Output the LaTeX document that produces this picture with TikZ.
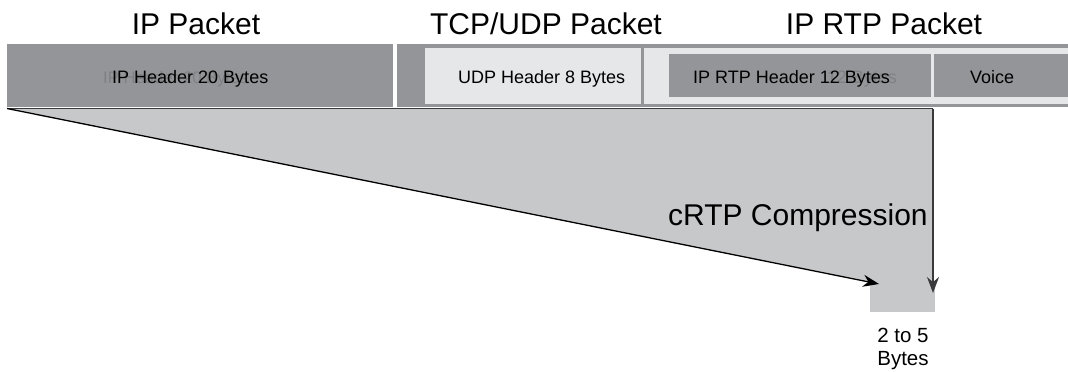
\documentclass[tikz,border=0pt]{standalone}
\usepackage{fontspec}
\setmainfont{Liberation Sans}
\usetikzlibrary{arrows.meta}
\definecolor{banddark}{HTML}{939598}
\definecolor{bandlight}{HTML}{E6E7E8}
\definecolor{wedge}{HTML}{C7C8CA}
\definecolor{rule}{HTML}{3A3A3C}
\definecolor{ghost}{HTML}{808184}
\tikzset{
  field/.style={draw=none, inner sep=0pt, anchor=north west},
  title/.style={inner sep=0pt, anchor=base, font=\fontsize{30}{32}\selectfont},
  label/.style={inner sep=0pt, anchor=base west, font=\fontsize{18}{20}\selectfont, text=black},
  ghosttext/.style={inner sep=0pt, anchor=base west, text=ghost},
  edge/.style={draw=rule, line width=1.6pt},
  squeeze/.style={draw=black, line width=1.3pt, -{Stealth[length=16pt,width=12pt]}}
}
\begin{document}
\begin{tikzpicture}[x=1pt, y=-1pt]
  \useasboundingbox (0,0) rectangle (1068,372);

  % packet headings
  \node[title] (tip) at (196,34) {IP Packet};
  \node[title] (ttcp) at (546,34) {TCP/UDP Packet};
  \node[title] (trtp) at (884,34) {IP RTP Packet};

  % outer bands
  \fill[banddark] (7,44) rectangle (393,107);
  \fill[banddark] (397,44) rectangle (1068,107);
  % UDP header and RTP band
  \fill[bandlight] (425,48) rectangle (641,104);
  \fill[bandlight] (644,48) rectangle (1068,104);
  \fill[banddark] (669,54) rectangle (931,97);
  \fill[banddark] (934,54) rectangle (1068,97);

  % compression wedge
  \coordinate (wl) at (7,108.5);
  \coordinate (wr) at (933,108.5);
  \coordinate (tipl) at (879,284);
  \coordinate (tipr) at (933,293);
  \fill[wedge] (wl) -- (wr) -- (933,283) -- (870,282.2) -- cycle;
  \node[field, fill=wedge, minimum width=65pt, minimum height=30pt] (small) at (870,282) {};

  % field labels
  \node[ghosttext, font=\fontsize{16.7}{18}\selectfont] (gip) at (103,83) {IP Header 20 Bytes};
  \node[label] (lip) at (112,83) {IP Header 20 Bytes};
  \node[label] (ludp) at (458,83) {UDP Header 8 Bytes};
  \node[ghosttext, font=\fontsize{18}{20}\selectfont, anchor=base east] (grtp) at (897,83) {12 Bytes};
  \node[label] (lrtp) at (693,83) {IP RTP Header 12 Bytes};
  \node[label] (lvoice) at (970,83) {Voice};

  % edges and arrows
  \draw[edge] (wl) -- (wr);
  \draw[squeeze] (wl) -- (tipl);
  \draw[squeeze, line width=1.5pt, draw=rule] (wr) -- (tipr);

  \node[inner sep=0pt, anchor=base west, font=\fontsize{30}{32}\selectfont] (crtp) at (668,225) {cRTP Compression};
  \node[inner sep=0pt, anchor=base, font=\fontsize{20.5}{22}\selectfont] (n25) at (903,342) {2 to 5};
  \node[inner sep=0pt, anchor=base, font=\fontsize{20.5}{22}\selectfont] (nby) at (903,365) {Bytes};
\end{tikzpicture}
\end{document}
